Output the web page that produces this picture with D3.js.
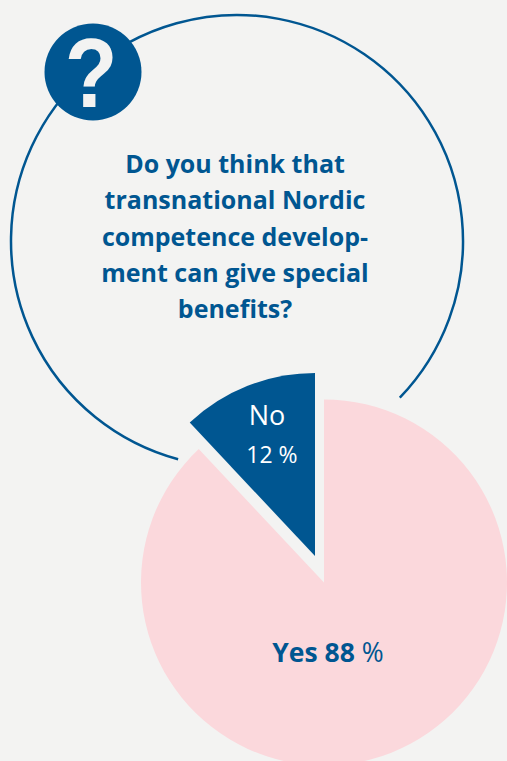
<!DOCTYPE html>
<html>
<head>
<meta charset="utf-8">
<script src="https://cdn.jsdelivr.net/npm/d3@7/dist/d3.min.js"></script>
<style>
html,body{margin:0;padding:0;background:#f3f3f2;overflow:hidden}
svg{display:block}
text{font-family:"Open Sans","Noto Sans",sans-serif}
</style>
</head>
<body>
<svg id="chart" width="507" height="761"></svg>
<script>
// Survey answers, in percent
const answers = ["Yes", "No"];
const shares = [88, 12];
const questionLines = ["Do you think that", "transnational Nordic", "competence develop-", "ment can give special", "benefits?"];

const blue = "#005691", pink = "#fbd8dc", paper = "#f3f3f2";
const svg = d3.select("#chart");

// Speech bubble outline: an open circle whose gap sits behind the pie
const bubble = d3.arc().innerRadius(226).outerRadius(226);
svg.append("path")
  .attr("transform", "translate(237,241)")
  .attr("d", bubble({startAngle: -2.878, endAngle: 2.337}))
  .attr("fill", "none")
  .attr("stroke", blue)
  .attr("stroke-width", 2.5);

// Question-mark badge, with the glyph narrowed a little
svg.append("circle").attr("cx", 93).attr("cy", 72).attr("r", 48.5).attr("fill", blue);
svg.append("text")
  .attr("transform", "translate(91,107) scale(0.88,1)")
  .attr("text-anchor", "middle")
  .attr("fill", paper)
  .style("font-family", "'Liberation Sans',sans-serif")
  .style("font-weight", 700)
  .style("font-size", "98px")
  .text("?");

// Question
svg.append("g").selectAll("text").data(questionLines).join("text")
  .attr("x", 235)
  .attr("y", (d, i) => 173 + i * 36.3)
  .attr("text-anchor", "middle")
  .attr("fill", blue)
  .style("font-size", "25px")
  .style("font-weight", 700)
  .text(d => d);

// Pie: each slice is pulled away from the shared centre along its own offset
const pie = d3.pie().sort(null).value(d => d)(shares);
const arc = d3.arc().innerRadius(0).outerRadius(183);
const centres = [[324, 582.5], [315, 556]];
const fills = [pink, blue];
svg.append("g").selectAll("path").data(pie).join("path")
  .attr("transform", (d, i) => `translate(${centres[i]})`)
  .attr("d", arc)
  .attr("fill", (d, i) => fills[i]);

// Slice labels
svg.append("text").attr("x", 267).attr("y", 425)
  .attr("text-anchor", "middle").attr("fill", "#fff")
  .style("font-size", "27px").style("font-weight", 400)
  .text(answers[1]);
svg.append("text").attr("x", 272).attr("y", 463)
  .attr("text-anchor", "middle").attr("fill", "#fff")
  .style("font-size", "23px").style("font-weight", 400)
  .text(`${shares[1]} %`);

const yes = svg.append("text").attr("x", 328).attr("y", 662)
  .attr("text-anchor", "middle").attr("fill", blue)
  .style("font-size", "26.5px");
yes.append("tspan").style("font-weight", 700).text(`${answers[0]} ${shares[0]} `);
yes.append("tspan").text("%");
</script>
</body>
</html>
